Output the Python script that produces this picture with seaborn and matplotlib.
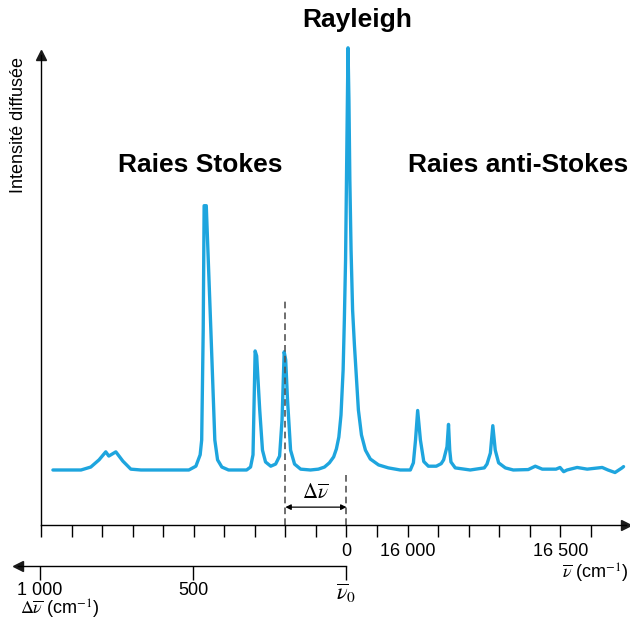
import pandas as pd
import seaborn as sns
import matplotlib.pyplot as plt

sns.set_theme(style="white", rc={"text.color": "black", "xtick.color": "black",
                                 "axes.labelcolor": "black"})
plt.rcParams["font.family"] = ["Liberation Sans", "DejaVu Sans"]
plt.rcParams["mathtext.fontset"] = "stix"

# spectrum: wavenumber (cm-1), intensity (a.u., baseline = 0)
wavenumber = [14839, 14931, 14963, 14990, 15012, 15022, 15045, 15068, 15094, 15127,
              15284, 15307, 15321, 15326, 15331, 15334, 15341, 15356, 15369, 15378,
              15392, 15414, 15473, 15486, 15494, 15501, 15506, 15516, 15525, 15535,
              15552, 15568, 15581, 15589, 15596, 15601, 15607, 15617, 15630, 15650,
              15682, 15708, 15728, 15744, 15758, 15767, 15775, 15782, 15789, 15793,
              15797, 15800, 15803, 15805, 15808, 15811, 15815, 15820, 15826, 15833,
              15839, 15849, 15862, 15878, 15905, 15937, 15976, 16009, 16019, 16026,
              16033, 16042, 16053, 16068, 16094, 16110, 16118, 16129, 16134, 16138,
              16142, 16156, 16205, 16251, 16260, 16271, 16279, 16287, 16298, 16320,
              16346, 16395, 16418, 16441, 16486, 16499, 16511, 16522, 16555, 16588,
              16637, 16656, 16679, 16702, 16707]
intensity = [0.0, 0.0, 0.7, 2.4, 4.3, 3.3, 4.3, 2.1, 0.2, 0.0,
             0.0, 0.9, 3.6, 7.1, 33.2, 62.6, 62.6, 33.2, 7.1, 2.4,
             0.7, 0.0, 0.0, 0.7, 3.6, 28.2, 27.0, 14.2, 4.7, 1.9,
             0.9, 1.4, 3.3, 11.8, 28.0, 26.1, 16.6, 4.7, 1.4, 0.2,
             0.0, 0.2, 0.7, 1.7, 3.1, 5.0, 7.8, 13.0, 23.7, 35.5,
             49.8, 68.7, 87.7, 100.0, 87.7, 68.7, 52.1, 37.9, 29.6, 21.3,
             14.2, 8.3, 4.7, 2.6, 1.2, 0.5, 0.0, 0.0, 1.7, 7.1,
             14.1, 7.1, 2.0, 0.9, 0.9, 1.5, 2.4, 5.5, 10.8, 4.7,
             1.9, 0.5, 0.0, 0.5, 1.4, 4.0, 10.5, 4.7, 1.7, 0.5,
             0.0, 0.1, 0.9, 0.2, 0.2, 0.6, -0.4, 0.0, 0.6, 0.2,
             0.6, 0.0, -0.6, 0.5, 0.8]

nu0 = 15800            # Rayleigh line
shift_marked = 200     # the shift shown with the dashed line
nu_ticks = list(range(14800, 16700, 100))
nu_labels = {15800: "0", 16000: "16 000", 16500: "16 500"}
shift_ticks = [1000, 500, 0]
shift_labels = ["1 000", "500", r"$\overline{\nu}_0$"]

spec = pd.DataFrame({"nu": wavenumber, "I": intensity})
blue = "#1ea5de"

fig = plt.figure(figsize=(6.3, 6.21), dpi=100)
ax = fig.add_axes([41 / 630, 96 / 621, 585 / 630, 470 / 621])

sns.lineplot(data=spec, x="nu", y="I", ax=ax, color=blue, lw=2.4,
             estimator=None, sort=False, clip_on=False)

ax.set_xlim(14800, 16715)
ax.set_ylim(-13.03, 98.3)

# axes drawn as arrows
for s in ["top", "right"]:
    ax.spines[s].set_visible(False)
for s in ["left", "bottom"]:
    ax.spines[s].set_color("black")
    ax.spines[s].set_linewidth(1.0)
ax.plot(1, 0, ">k", ms=7, transform=ax.transAxes, clip_on=False)
ax.plot(0, 1, "^k", ms=7, transform=ax.transAxes, clip_on=False)

ax.set_yticks([])
ax.set_xticks(nu_ticks)
ax.set_xticklabels([nu_labels.get(t, "") for t in nu_ticks])
ax.tick_params(axis="x", bottom=True, direction="out", length=8.6, width=1.0,
               color="black", labelcolor="black", pad=4, labelsize=13)
ax.set_xlabel("")
ax.set_ylabel("")

# dashed markers and the shift arrow
ax.vlines(nu0 - shift_marked, -13.03, 40.3, color="#555555", lw=1.2,
          linestyles=(0, (4, 2.5)))
ax.vlines(nu0, -13.03, -1.0, color="#555555", lw=1.2, linestyles=(0, (4, 2.5)))
ax.annotate("", xy=(nu0 - shift_marked, -8.8), xytext=(nu0, -8.8),
            arrowprops=dict(arrowstyle="<|-|>", color="black", lw=0.9,
                            mutation_scale=8, shrinkA=0, shrinkB=0))
ax.text(nu0 - shift_marked / 2, -5.4, r"$\Delta\overline{\nu}$", ha="center",
        va="center", fontsize=15)

# titles
ax.text(15836, 106.6, "Rayleigh", ha="center", va="center", fontsize=19,
        fontweight="bold")
ax.text(15320, 72.3, "Raies Stokes", ha="center", va="center", fontsize=19,
        fontweight="bold")
ax.text(16362, 72.3, "Raies anti-Stokes", ha="center", va="center", fontsize=19,
        fontweight="bold")
fig.text(19 / 630, 1 - 125 / 621, "Intensité diffusée", rotation=90,
         ha="center", va="center", fontsize=13)
fig.text(628 / 630, 1 - 573 / 621, r"$\overline{\nu}$ (cm$^{-1}$)",
         ha="right", va="center", fontsize=13)

# lower axis: Raman shift, pointing left
ax2 = fig.add_axes([18 / 630, 55 / 621, 328 / 630, 0.001])
ax2.set_xlim(1072, 0)
ax2.set_ylim(0, 1)
for s in ["top", "right", "left"]:
    ax2.spines[s].set_visible(False)
ax2.spines["bottom"].set_color("black")
ax2.spines["bottom"].set_linewidth(1.0)
ax2.set_facecolor("none")
ax2.set_yticks([])
ax2.set_xticks(shift_ticks)
ax2.set_xticklabels(shift_labels)
ax2.tick_params(axis="x", bottom=True, direction="out", length=10, width=1.0,
                color="black", labelcolor="black", pad=1.5, labelsize=13)
ax2.get_xticklabels()[-1].set_fontsize(16)
ax2.plot(0, 0, "<k", ms=7, transform=ax2.transAxes, clip_on=False)
fig.text(20 / 630, 1 - 609 / 621, r"$\Delta\overline{\nu}$ (cm$^{-1}$)",
         ha="left", va="center", fontsize=13)

fig.savefig("out.png", dpi=100)
